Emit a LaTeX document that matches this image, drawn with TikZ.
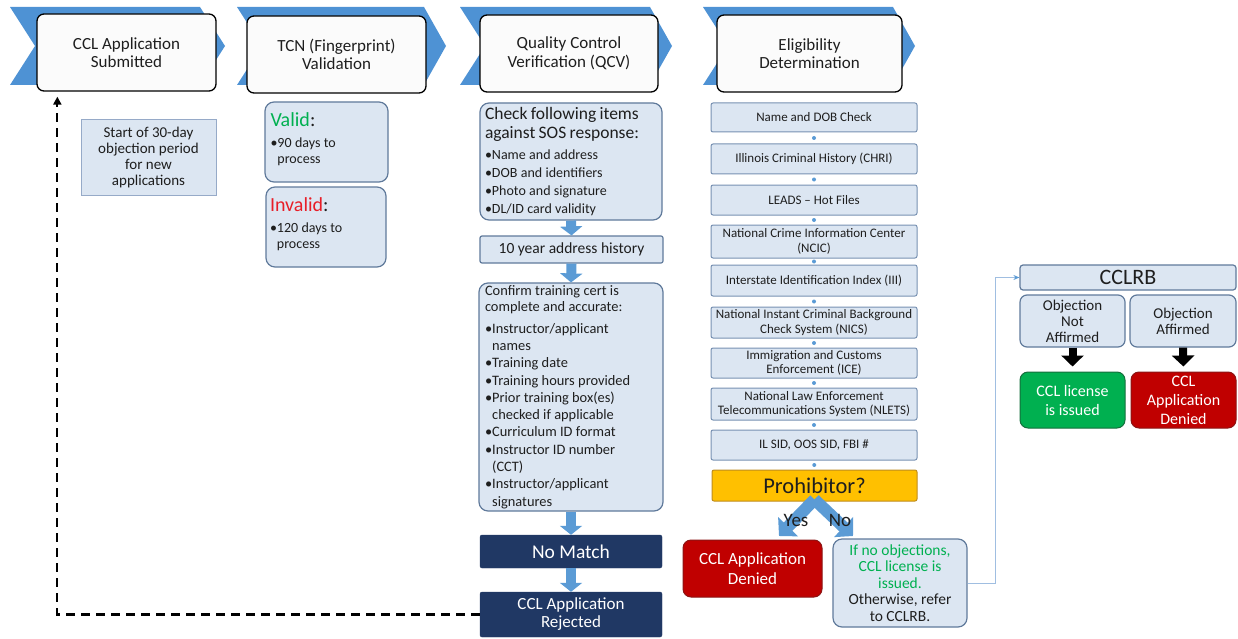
\documentclass[tikz,border=0pt]{standalone}
\usepackage{fontspec}
\setmainfont{Carlito}
\usetikzlibrary{arrows.meta,calc}
\definecolor{chev}{RGB}{78,146,212}
\definecolor{arrblue}{RGB}{91,155,213}
\definecolor{lb}{RGB}{220,230,242}
\definecolor{bord}{RGB}{96,122,155}
\definecolor{ebord}{RGB}{120,145,178}
\definecolor{notebord}{RGB}{150,170,200}
\definecolor{navyc}{RGB}{32,56,100}
\definecolor{dred}{RGB}{192,0,0}
\definecolor{dgreen}{RGB}{0,176,80}
\definecolor{vgreen}{RGB}{0,176,80}
\definecolor{ired}{RGB}{232,30,40}
\definecolor{yel}{RGB}{255,192,0}
\definecolor{yelbord}{RGB}{190,140,30}
\definecolor{txt}{RGB}{30,30,30}
\definecolor{thinc}{RGB}{160,190,225}
\begin{document}
\begin{tikzpicture}[x=1pt,y=-1pt,
  hdr/.style={draw=black, line width=1.3pt, rounded corners=7pt, fill={rgb,255:red,251;green,251;blue,251}, align=center, font=\fontsize{17}{18.5}\selectfont, text=txt, inner sep=0pt},
  lbox/.style={draw=bord, line width=1.2pt, fill=lb, rounded corners=9pt, inner sep=0pt, text=txt},
  ebox/.style={draw=ebord, line width=1pt, fill=lb, rounded corners=2pt, align=center, font=\fontsize{13}{14.5}\selectfont, text=txt, inner sep=0pt, minimum width=206pt},
  navybox/.style={fill=navyc, draw=navyc, rounded corners=2pt, text=white, align=center, inner sep=0pt},
  redbox/.style={fill=dred, draw={rgb,255:red,140;green,20;blue,20}, line width=1pt, rounded corners=8pt, text=white, align=center, inner sep=0pt},
  greenbox/.style={fill=dgreen, draw={rgb,255:red,20;green,110;blue,60}, line width=1pt, rounded corners=8pt, text=white, align=center, inner sep=0pt},
  barrow/.style={line width=10pt, draw=arrblue, -{Triangle[width=22pt,length=9pt]}},
  yarrow/.style={line width=12pt, draw=arrblue, -{Triangle[width=27pt,length=13pt]}},
  karrow/.style={line width=8pt, draw=black, -{Triangle[width=22pt,length=11pt]}, shorten >=5pt},
  dashconn/.style={line width=2.2pt, dash pattern=on 9pt off 6pt, -{Triangle[width=8pt,length=8pt]}},
  thinconn/.style={line width=1pt, draw=thinc, -{Stealth[length=6pt,width=5pt,color=arrblue]}},
  edot/.style={fill=arrblue},
  chevron/.style={fill=chev}
]
\useasboundingbox (0,0) rectangle (1238,639);

% chevrons
\fill[chevron] (10,7) -- (200,7) -- (225,46) -- (200,85) -- (10,85) -- (35,46) -- cycle;
\fill[chevron] (237,7) -- (424,7) -- (446,46) -- (424,85) -- (237,85) -- (262,46) -- cycle;
\fill[chevron] (460,7) -- (650,7) -- (672,46) -- (650,85) -- (460,85) -- (485,46) -- cycle;
\fill[chevron] (703,7) -- (893,7) -- (915,46) -- (893,85) -- (703,85) -- (728,46) -- cycle;

% header boxes
\node[hdr, minimum width=179pt, minimum height=77pt] (h1) at (126.5,52.5) {CCL Application\\Submitted};
\node[hdr, minimum width=179pt, minimum height=77pt] (h2) at (336.5,54.5) {TCN (Fingerprint)\\Validation};
\node[hdr, minimum width=178pt, minimum height=77pt] (h3) at (569,53.5) {Quality Control\\Verification (QCV)};
\node[hdr, minimum width=185pt, minimum height=77pt] (h4) at (809.5,53.5) {Eligibility\\Determination};

% column 1 note
\node[draw=notebord, line width=1pt, fill=lb, inner sep=0pt, align=center, text=txt,
      font=\fontsize{15}{16.3}\selectfont, minimum width=135pt, minimum height=75pt]
      (note) at (148.5,157.5) {Start of 30-day\\objection period\\for new\\applications};

% column 2
\node[lbox, minimum width=123pt, minimum height=80pt, text width=112pt, align=left] (valid) at (326.5,142)
  {{\fontsize{20}{21}\selectfont\textcolor{vgreen}{Valid}:\par}\vspace{5pt}{\fontsize{14}{16}\selectfont •90 days to\\\phantom{•}process\par}\vspace{6pt}};
\node[lbox, minimum width=120pt, minimum height=80pt, text width=112pt, align=left] (invalid) at (326,227)
  {{\fontsize{20}{21}\selectfont\textcolor{ired}{Invalid}:\par}\vspace{5pt}{\fontsize{14}{16}\selectfont •120 days to\\\phantom{•}process\par}\vspace{6pt}};

% column 3
\node[lbox, minimum width=182pt, minimum height=117pt, text width=172pt, align=left] (chk) at (571,161.5)
  {{\fontsize{17.5}{19.5}\selectfont Check following items\\against SOS response:\par}\vspace{3pt}
   {\fontsize{14}{18}\selectfont •Name and address\\•DOB and identifiers\\•Photo and signature\\•DL/ID card validity\par}};
\node[lbox, rounded corners=2pt, minimum width=183pt, minimum height=27pt, font=\fontsize{15.5}{17}\selectfont] (addr) at (571.5,249.5) {10 year address history};
\node[lbox, minimum width=184pt, minimum height=228pt, text width=172pt, align=left] (conf) at (571,397)
  {{\fontsize{14.4}{16.5}\selectfont Confirm training cert is\\complete and accurate:\par}\vspace{4pt}
   {\fontsize{14.4}{17.3}\selectfont •Instructor/applicant\\\phantom{•}names\\•Training date\\•Training hours provided\\•Prior training box(es)\\\phantom{•}checked if applicable\\•Curriculum ID format\\•Instructor ID number\\\phantom{•}(CCT)\\•Instructor/applicant\\\phantom{•}signatures\par}};
\node[navybox, minimum width=182pt, minimum height=33pt, font=\fontsize{19.5}{21}\selectfont] (nomatch) at (571,551.5) {No Match};
\node[navybox, minimum width=182pt, minimum height=45pt, font=\fontsize{17}{18}\selectfont] (rej) at (571,614.5) {CCL Application\\Rejected};

\draw[barrow] (chk.south) -- (addr.north);
\draw[barrow] (addr.south) -- (conf.north);
\draw[barrow] (conf.south) -- (nomatch.north);
\draw[barrow] (nomatch.south) -- (rej.north);

% dashed return
\draw[dashconn] (rej.west) -| ([xshift=21pt,yshift=-5pt]h1.south west);

% column 4
\node[ebox, minimum height=29pt] (e1) at (814,117.5) {Name and DOB Check};
\node[ebox, minimum height=30pt] (e2) at (814,159) {Illinois Criminal History (CHRI)};
\node[ebox, minimum height=30pt] (e3) at (814,200) {LEADS – Hot Files};
\node[ebox, minimum height=33pt] (e4) at (814,241.5) {National Crime Information Center\\(NCIC)};
\node[ebox, minimum height=31pt] (e5) at (814,280.5) {Interstate Identification Index (III)};
\node[ebox, minimum height=31pt] (e6) at (814,322.5) {National Instant Criminal Background\\Check System (NICS)};
\node[ebox, minimum height=30pt] (e7) at (814,363) {Immigration and Customs\\Enforcement (ICE)};
\node[ebox, minimum height=32pt] (e8) at (814,404) {National Law Enforcement\\Telecommunications System (NLETS)};
\node[ebox, minimum height=30pt] (e9) at (814,445) {IL SID, OOS SID, FBI \#};
\node[draw=yelbord, line width=1pt, fill=yel, rounded corners=2pt, inner sep=0pt, text=txt,
      minimum width=205pt, minimum height=31pt, font=\fontsize{22.5}{24}\selectfont] (proh) at (814.5,485.5) {Prohibitor?};

\foreach \a/\b in {e1/e2,e2/e3,e3/e4,e4/e5,e5/e6,e6/e7,e7/e8,e8/e9,e9/proh}
  \fill[edot] ($(\a.south)!0.5!(\b.north)$) circle (2pt);

\coordinate (yesT) at (779,536);
\coordinate (noT) at (853,536);
\draw[yarrow] ([yshift=2pt]proh.south) -- (yesT);
\draw[yarrow] ([yshift=2pt]proh.south) -- (noT);
\node[text=txt, font=\fontsize{19}{20}\selectfont, inner sep=0pt] (yes) at (796,520) {Yes};
\node[text=txt, font=\fontsize{19}{20}\selectfont, inner sep=0pt] (no) at (840,520) {No};

\node[redbox, minimum width=139pt, minimum height=57pt, font=\fontsize{17}{20}\selectfont] (den) at (752.5,568.5) {CCL Application\\Denied};
\node[lbox, minimum width=134pt, minimum height=88pt, align=center, font=\fontsize{15.5}{16.5}\selectfont] (ifno) at (900,583)
  {\textcolor{vgreen}{If no objections,}\\\textcolor{vgreen}{CCL license is}\\\textcolor{vgreen}{issued.}\\Otherwise, refer\\to CCLRB.};

% CCLRB
\node[lbox, rounded corners=3pt, minimum width=216pt, minimum height=25pt, font=\fontsize{22}{23}\selectfont] (cclrb) at (1128,277.5) {CCLRB};
\node[lbox, rounded corners=7pt, minimum width=105pt, minimum height=52pt, align=center, font=\fontsize{15}{16}\selectfont] (objna) at (1072.5,321) {Objection\\Not\\Affirmed};
\node[lbox, rounded corners=7pt, minimum width=106pt, minimum height=52pt, align=center, font=\fontsize{15}{16}\selectfont] (obja) at (1183,321) {Objection\\Affirmed};
\node[greenbox, minimum width=105pt, minimum height=56pt, font=\fontsize{16}{19}\selectfont] (iss) at (1072.5,400) {CCL license\\is issued};
\node[redbox, minimum width=105pt, minimum height=56pt, font=\fontsize{16}{19}\selectfont] (den2) at (1183.5,400) {CCL\\Application\\Denied};
\draw[karrow] (objna.south) -- (iss.north);
\draw[karrow] (obja.south) -- (den2.north);

\draw[thinconn] (ifno.east) -- ++(28,0) |- (cclrb.west);
\end{tikzpicture}
\end{document}
